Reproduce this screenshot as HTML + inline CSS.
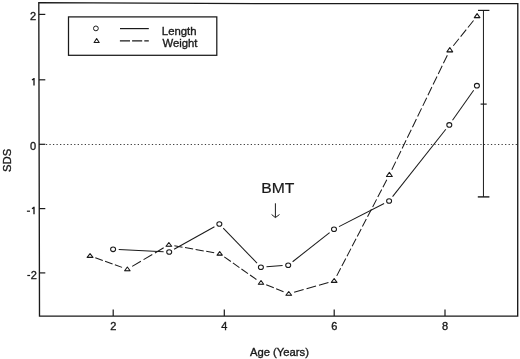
<!DOCTYPE html>
<html><head><meta charset="utf-8"><style>
html,body{margin:0;padding:0;background:#fff;}
svg{display:block;filter:grayscale(1);}
.t{font-family:"Liberation Sans",sans-serif;font-size:11px;fill:#1a1a1a;stroke:#1a1a1a;stroke-width:0.35px;}
.b{font-family:"Liberation Sans",sans-serif;font-size:14.2px;fill:#1a1a1a;stroke:#1a1a1a;stroke-width:0.2px;}
</style></head><body>
<svg width="520" height="359" viewBox="0 0 520 359">
<path d="M38.8 2.6 L280 3.7 L517.8 3.6 L517.7 316.1 L39.5 316.1 Z" fill="none" stroke="#1a1a1a" stroke-width="1.35" stroke-linejoin="miter"/>
<line x1="39.0" y1="14.4" x2="45.3" y2="14.4" stroke="#1a1a1a" stroke-width="1.2"/>
<text x="36.2" y="19.6" text-anchor="end" class="t">2</text>
<line x1="39.0" y1="79.8" x2="45.3" y2="79.8" stroke="#1a1a1a" stroke-width="1.2"/>
<path d="M34.0 85.40 L34.0 77.90 M34.0 78.20 Q33.4 79.50 31.9 79.90" fill="none" stroke="#1a1a1a" stroke-width="1.35"/>
<line x1="39.0" y1="144.3" x2="45.3" y2="144.3" stroke="#1a1a1a" stroke-width="1.2"/>
<text x="36.2" y="149.5" text-anchor="end" class="t">0</text>
<line x1="39.0" y1="208.6" x2="45.3" y2="208.6" stroke="#1a1a1a" stroke-width="1.2"/>
<path d="M34.0 214.20 L34.0 206.70 M34.0 207.00 Q33.4 208.30 31.9 208.70" fill="none" stroke="#1a1a1a" stroke-width="1.35"/>
<line x1="26.9" y1="211.20" x2="30.0" y2="211.20" stroke="#1a1a1a" stroke-width="1.2"/>
<line x1="39.0" y1="272.9" x2="45.3" y2="272.9" stroke="#1a1a1a" stroke-width="1.2"/>
<line x1="27.3" y1="275.50" x2="30.1" y2="275.50" stroke="#1a1a1a" stroke-width="1.2"/>
<text x="36.9" y="278.60" text-anchor="end" class="t">2</text>
<line x1="113.2" y1="316.0" x2="113.2" y2="309.5" stroke="#1a1a1a" stroke-width="1.2"/>
<text x="113.2" y="329.8" text-anchor="middle" class="t">2</text>
<line x1="224.3" y1="316.0" x2="224.3" y2="309.5" stroke="#1a1a1a" stroke-width="1.2"/>
<text x="224.3" y="329.8" text-anchor="middle" class="t">4</text>
<line x1="334.2" y1="316.0" x2="334.2" y2="309.5" stroke="#1a1a1a" stroke-width="1.2"/>
<text x="334.2" y="329.8" text-anchor="middle" class="t">6</text>
<line x1="445.0" y1="316.0" x2="445.0" y2="309.5" stroke="#1a1a1a" stroke-width="1.2"/>
<text x="445.0" y="329.8" text-anchor="middle" class="t">8</text>
<line x1="45.9" y1="144.5" x2="517" y2="144.5" stroke="#1a1a1a" stroke-width="1.2" stroke-dasharray="1.25 2.282" opacity="0.85"/>
<line x1="483.45" y1="10.4" x2="483.45" y2="196.9" stroke="#1a1a1a" stroke-width="1.0"/>
<line x1="478" y1="10.4" x2="489.4" y2="10.4" stroke="#1a1a1a" stroke-width="1.2"/>
<line x1="477.8" y1="196.9" x2="489.4" y2="196.9" stroke="#1a1a1a" stroke-width="1.4"/>
<line x1="480.6" y1="104.1" x2="486.7" y2="104.1" stroke="#1a1a1a" stroke-width="1.2"/>
<line x1="118.69" y1="249.57" x2="163.61" y2="251.73" stroke="#1a1a1a" stroke-width="1.02"/>
<line x1="174.09" y1="249.27" x2="214.46" y2="226.73" stroke="#1a1a1a" stroke-width="1.02"/>
<line x1="223.23" y1="228.04" x2="257.02" y2="263.16" stroke="#1a1a1a" stroke-width="1.02"/>
<line x1="266.49" y1="266.79" x2="282.61" y2="265.61" stroke="#1a1a1a" stroke-width="1.02"/>
<line x1="292.60" y1="261.74" x2="329.60" y2="232.66" stroke="#1a1a1a" stroke-width="1.02"/>
<line x1="338.99" y1="226.65" x2="384.11" y2="203.55" stroke="#1a1a1a" stroke-width="1.02"/>
<line x1="392.57" y1="196.61" x2="445.83" y2="129.29" stroke="#1a1a1a" stroke-width="1.02"/>
<line x1="452.52" y1="120.32" x2="473.68" y2="90.28" stroke="#1a1a1a" stroke-width="1.02"/>
<line x1="95.32" y1="257.79" x2="122.08" y2="267.36" stroke="#1a1a1a" stroke-width="1.02" stroke-dasharray="7.94 2.44"/>
<line x1="132.17" y1="266.40" x2="164.03" y2="247.60" stroke="#1a1a1a" stroke-width="1.02" stroke-dasharray="10.12 3.11"/>
<line x1="174.37" y1="245.72" x2="214.18" y2="252.73" stroke="#1a1a1a" stroke-width="1.02" stroke-dasharray="8.25 2.53"/>
<line x1="224.28" y1="256.92" x2="256.42" y2="279.53" stroke="#1a1a1a" stroke-width="1.02" stroke-dasharray="8.03 2.46"/>
<line x1="266.21" y1="284.81" x2="283.54" y2="291.69" stroke="#1a1a1a" stroke-width="1.02" stroke-dasharray="8.17 2.51"/>
<line x1="294.14" y1="292.22" x2="328.76" y2="282.38" stroke="#1a1a1a" stroke-width="1.02" stroke-dasharray="9.87 3.03"/>
<line x1="336.74" y1="275.88" x2="386.79" y2="179.77" stroke="#1a1a1a" stroke-width="1.02" stroke-dasharray="8.50 2.61"/>
<line x1="391.82" y1="169.76" x2="447.36" y2="55.14" stroke="#1a1a1a" stroke-width="1.02" stroke-dasharray="9.05 2.78"/>
<line x1="453.30" y1="45.73" x2="473.60" y2="20.42" stroke="#1a1a1a" stroke-width="1.02" stroke-dasharray="8.96 2.75"/>
<ellipse cx="113.1" cy="249.3" rx="2.5" ry="2.3" fill="none" stroke="#1a1a1a" stroke-width="1.05"/>
<ellipse cx="169.2" cy="252.0" rx="2.5" ry="2.3" fill="none" stroke="#1a1a1a" stroke-width="1.05"/>
<ellipse cx="219.35" cy="224.0" rx="2.5" ry="2.3" fill="none" stroke="#1a1a1a" stroke-width="1.05"/>
<ellipse cx="260.9" cy="267.2" rx="2.5" ry="2.3" fill="none" stroke="#1a1a1a" stroke-width="1.05"/>
<ellipse cx="288.2" cy="265.2" rx="2.5" ry="2.3" fill="none" stroke="#1a1a1a" stroke-width="1.05"/>
<ellipse cx="334.0" cy="229.2" rx="2.5" ry="2.3" fill="none" stroke="#1a1a1a" stroke-width="1.05"/>
<ellipse cx="389.1" cy="201.0" rx="2.5" ry="2.3" fill="none" stroke="#1a1a1a" stroke-width="1.05"/>
<ellipse cx="449.3" cy="124.9" rx="2.5" ry="2.3" fill="none" stroke="#1a1a1a" stroke-width="1.05"/>
<ellipse cx="476.9" cy="85.7" rx="2.5" ry="2.3" fill="none" stroke="#1a1a1a" stroke-width="1.05"/>
<path d="M90.05 253.65 L93.00 257.35 L87.10 257.35 Z" fill="none" stroke="#1a1a1a" stroke-width="1.08" stroke-linejoin="round"/><line x1="87.30" y1="257.35" x2="92.80" y2="257.35" stroke="#1a1a1a" stroke-width="0.4"/>
<path d="M127.35 266.95 L130.10 270.75 L124.60 270.75 Z" fill="none" stroke="#1a1a1a" stroke-width="1.08" stroke-linejoin="round"/><line x1="124.80" y1="270.75" x2="129.90" y2="270.75" stroke="#1a1a1a" stroke-width="0.4"/>
<path d="M168.85 242.45 L171.70 246.25 L166.00 246.25 Z" fill="none" stroke="#1a1a1a" stroke-width="1.08" stroke-linejoin="round"/><line x1="166.20" y1="246.25" x2="171.50" y2="246.25" stroke="#1a1a1a" stroke-width="0.4"/>
<path d="M219.70 251.45 L222.30 255.15 L217.10 255.15 Z" fill="none" stroke="#1a1a1a" stroke-width="1.08" stroke-linejoin="round"/><line x1="217.30" y1="255.15" x2="222.10" y2="255.15" stroke="#1a1a1a" stroke-width="0.4"/>
<path d="M261.00 280.45 L263.70 284.25 L258.30 284.25 Z" fill="none" stroke="#1a1a1a" stroke-width="1.08" stroke-linejoin="round"/><line x1="258.50" y1="284.25" x2="263.50" y2="284.25" stroke="#1a1a1a" stroke-width="0.4"/>
<path d="M288.75 291.45 L291.60 295.25 L285.90 295.25 Z" fill="none" stroke="#1a1a1a" stroke-width="1.08" stroke-linejoin="round"/><line x1="286.10" y1="295.25" x2="291.40" y2="295.25" stroke="#1a1a1a" stroke-width="0.4"/>
<path d="M334.15 278.55 L337.00 282.35 L331.30 282.35 Z" fill="none" stroke="#1a1a1a" stroke-width="1.08" stroke-linejoin="round"/><line x1="331.50" y1="282.35" x2="336.80" y2="282.35" stroke="#1a1a1a" stroke-width="0.4"/>
<path d="M389.38 172.35 L392.30 176.45 L386.45 176.45 Z" fill="none" stroke="#1a1a1a" stroke-width="1.08" stroke-linejoin="round"/><line x1="386.65" y1="176.45" x2="392.10" y2="176.45" stroke="#1a1a1a" stroke-width="0.4"/>
<path d="M449.80 47.55 L452.70 51.85 L446.90 51.85 Z" fill="none" stroke="#1a1a1a" stroke-width="1.08" stroke-linejoin="round"/><line x1="447.10" y1="51.85" x2="452.50" y2="51.85" stroke="#1a1a1a" stroke-width="0.4"/>
<path d="M477.10 13.65 L479.90 17.65 L474.30 17.65 Z" fill="none" stroke="#1a1a1a" stroke-width="1.08" stroke-linejoin="round"/><line x1="474.50" y1="17.65" x2="479.70" y2="17.65" stroke="#1a1a1a" stroke-width="0.4"/>
<rect x="68.5" y="16.9" width="148.3" height="38.4" fill="none" stroke="#1a1a1a" stroke-width="1.25"/>
<circle cx="95.9" cy="28.4" r="2.4" fill="none" stroke="#1a1a1a" stroke-width="1.0"/>
<path d="M96.65 38.45 L99.20 42.45 L94.10 42.45 Z" fill="none" stroke="#1a1a1a" stroke-width="1.08" stroke-linejoin="round"/><line x1="94.30" y1="42.45" x2="99.00" y2="42.45" stroke="#1a1a1a" stroke-width="0.4"/>
<line x1="120" y1="28.6" x2="148.8" y2="28.6" stroke="#1a1a1a" stroke-width="1.2"/>
<line x1="119.9" y1="40.9" x2="148.8" y2="40.9" stroke="#1a1a1a" stroke-width="1.2" stroke-dasharray="10.1 2.1"/>
<text transform="translate(161.8,34.8) scale(1.035,1)" class="t">Length</text>
<text transform="translate(162.4,46.9) scale(1.03,1)" class="t">Weight</text>
<text transform="translate(261.2,192.8) scale(1.105,1)" class="b">BMT</text>
<line x1="275.4" y1="203.3" x2="275.4" y2="217.3" stroke="#1a1a1a" stroke-width="1.0"/>
<path d="M271.6 214.5 L275.4 217.6 L279.5 214.5" fill="none" stroke="#1a1a1a" stroke-width="1.0"/>
<text transform="translate(249.9,355.7) scale(1.025,1)" class="t">Age (Years)</text>
<text transform="translate(10.8,172.0) rotate(-90) scale(1.035,1)" class="t">SDS</text>
</svg>
</body></html>
